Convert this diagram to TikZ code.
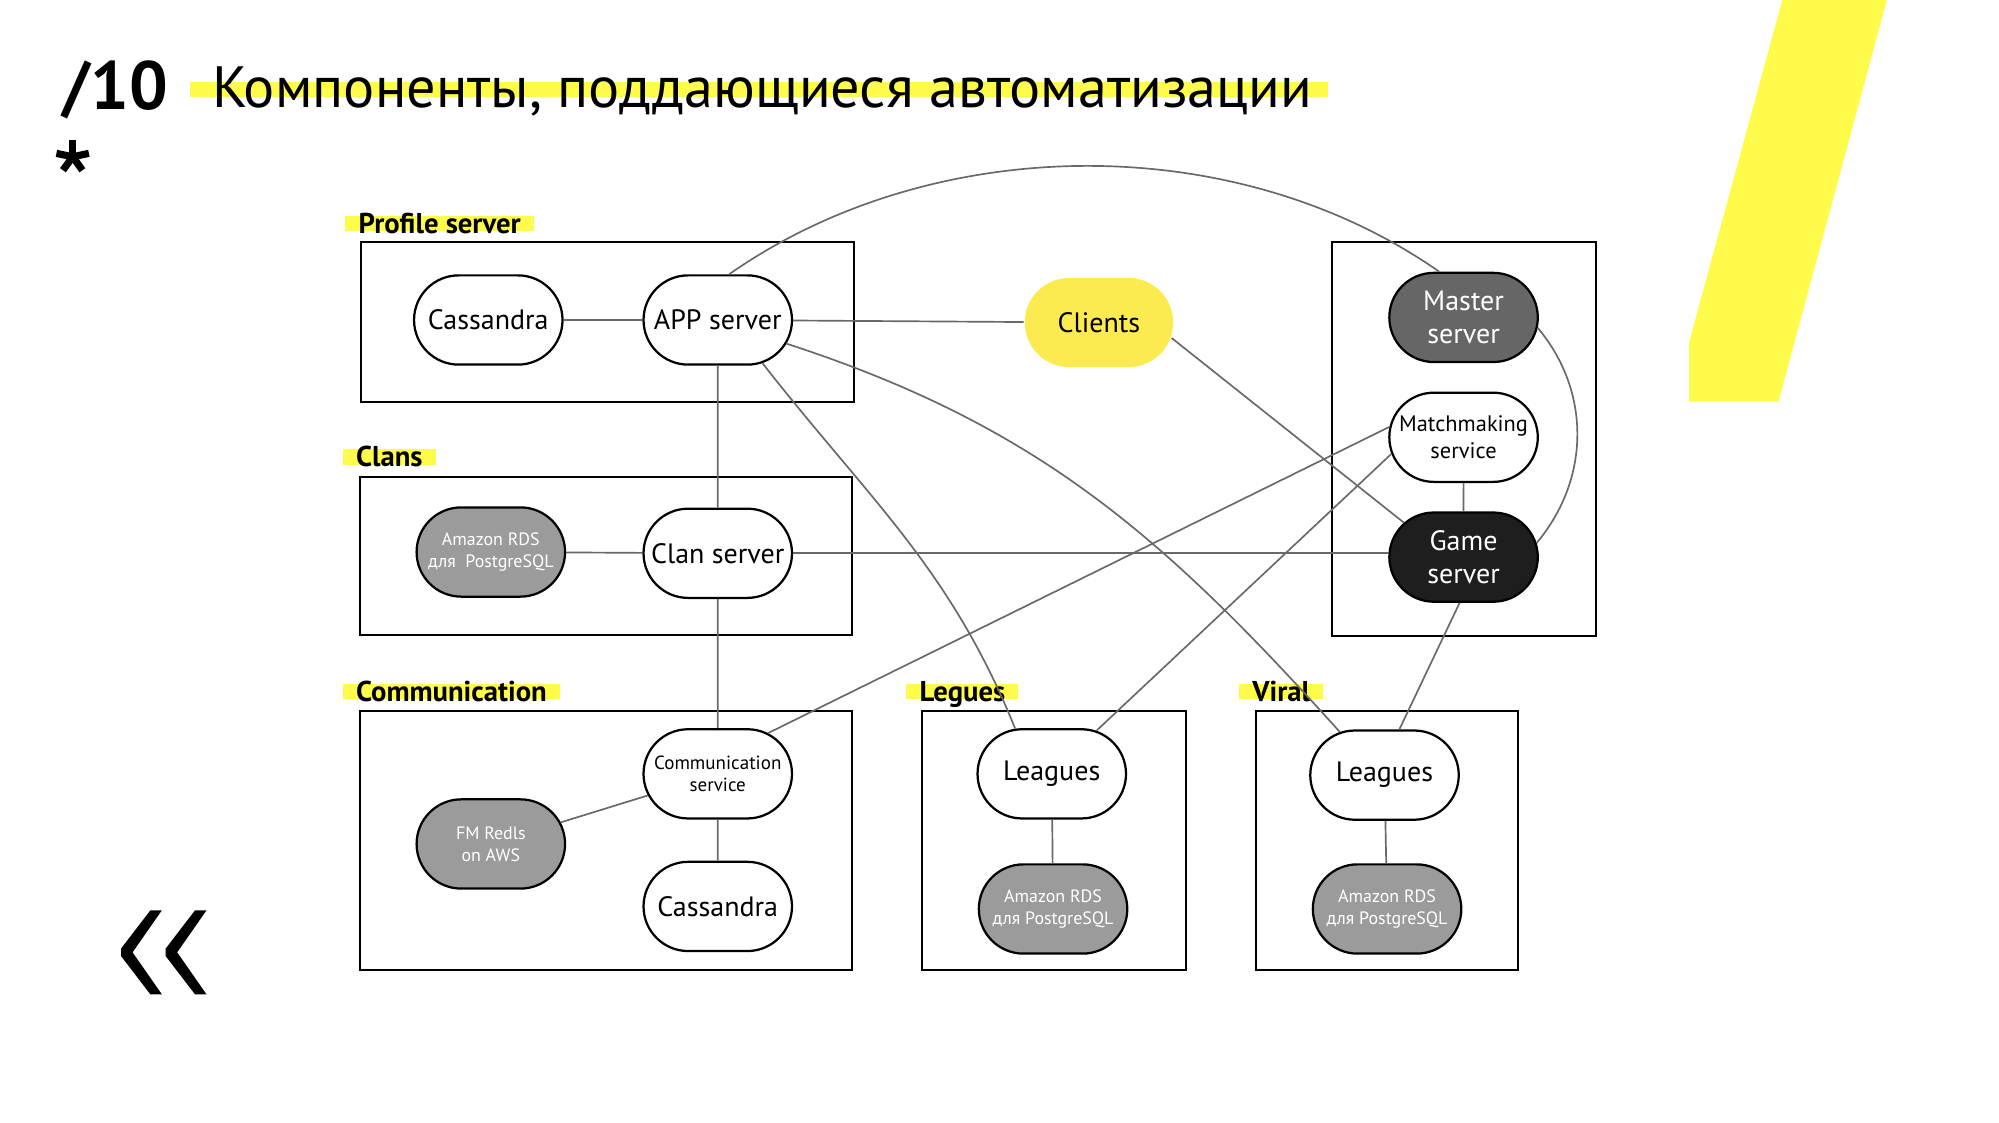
\documentclass[tikz,border=0pt]{standalone}
\usepackage{fontspec}
\setmainfont{PT Sans}
\usetikzlibrary{shapes.misc,backgrounds}
\definecolor{slideyellow}{RGB}{255,251,74}
\definecolor{clientyellow}{RGB}{252,235,80}
\definecolor{dbgray}{RGB}{155,155,155}
\definecolor{mastergray}{RGB}{102,102,102}
\definecolor{gamedark}{RGB}{30,30,30}
\definecolor{wire}{RGB}{105,105,105}

\begin{document}
\begin{tikzpicture}[x=0.02cm,y=0.02cm,
  pill/.style={rounded rectangle,draw=black,line width=1pt,minimum width=2.4cm,minimum height=1.4cm,inner sep=1pt,align=center,font=\fontsize{12.5}{15}\selectfont},
  db/.style={pill,fill=dbgray,text=white,font=\fontsize{8}{9.7}\selectfont},
  grp/.style={draw=black,line width=0.9pt},
  grplab/.style={anchor=base west,inner sep=0pt,font=\fontsize{12.8}{14}\selectfont\bfseries},
  hl/.style={fill=slideyellow},
  link/.style={draw=wire,line width=0.75pt}]
\useasboundingbox (0,0) rectangle (1568,-880.1);
% slide decoration
\fill[slideyellow] (1398,0) -- (1480,0) -- (1395,-315) -- (1325,-315) -- (1325,-268) -- cycle;
\node[anchor=base west,inner sep=0pt,font=\fontsize{30.5}{32}\selectfont\bfseries] (num) at (49,-86) {/10};
\node[anchor=base west,inner sep=0pt,font=\fontsize{26}{28}\selectfont] (title) at (166,-84) {Компоненты, поддающиеся автоматизации};
\begin{pgfonlayer}{background}
\fill[hl] ([shift={(-17,8)}]title.base west) rectangle ([shift={(12,20)}]title.base east);
\end{pgfonlayer}
\foreach \ang in {90,12,168,-54,-126}{\draw[line width=3.2pt] (57,-123) -- ++(\ang:13);};
\foreach \dx in {0,35}{\fill[shift={(\dx,0)}] (118,-714) -- (127,-714) -- (104,-747) -- (127,-780) -- (118,-780) -- (95,-750) -- (95,-744) -- cycle;};
% groups
\foreach \a/\b/\c/\d in {283/190/670/315,282/374/668/498,282/558/668/761,723/558/930/761,985/558/1191/761,1045/190/1252/499}{\draw[grp] (\a,-\b) rectangle (\c,-\d);};
\foreach \n/\x/\y/\t in {lprof/281/183/Profile server,lclan/279/366/Clans,lcomm/279/550/Communication,llg/721/550/Legues,lvir/982/550/Viral}{
  \node[grplab] (\n) at (\x,-\y) {\t};
  \begin{pgfonlayer}{background}
  \fill[hl] ([shift={(-10,1.5)}]\n.base west) rectangle ([shift={(10,13.5)}]\n.base east);
  \end{pgfonlayer}
};
% components
\node[pill] (cas1) at (383,-251) {Cassandra};
\node[pill] (app) at (563,-251) {APP server};
\node[pill,draw=none,fill=clientyellow] (cli) at (862,-253) {Clients};
\node[db] (rds1) at (385,-433) {Amazon RDS\\для\ \ PostgreSQL};
\node[pill] (clan) at (563,-434) {Clan server};
\node[pill,font=\fontsize{8.5}{9.7}\selectfont] (comm) at (563,-607) {Communication\\service};
\node[db] (redis) at (385,-662) {FM Redls\\on AWS};
\node[pill] (cas2) at (563,-711) {Cassandra};
\node[pill] (lg1) at (825,-607) {Leagues};
\node[db] (rds2) at (826,-713) {Amazon RDS\\для PostgreSQL};
\node[pill] (lg2) at (1086,-608) {Leagues};
\node[db] (rds3) at (1088,-713) {Amazon RDS\\для PostgreSQL};
\node[pill,fill=mastergray,text=white] (master) at (1148,-249) {Master\\server};
\node[pill,font=\fontsize{10}{12}\selectfont] (mm) at (1148,-343) {Matchmaking\\service};
\node[pill,fill=gamedark,text=white] (game) at (1148,-437) {Game\\server};
% links
\draw[link] (cas1) -- (app);
\draw[link] (app) -- (cli);
\draw[link] (app.76) .. controls +(160,112) and +(-160,112) .. (master.118);
\draw[link] (app) -- (clan);
\draw[link] (app.-44) to[out=-52,in=112] (lg1.129);
\draw[link] (app.-19) to[out=-18,in=132] (lg2.136);
\draw[link] (cli.-12) -- (game.150);
\draw[link] (rds1) -- (clan);
\draw[link] (clan.east) -- (clan.east -| game.west);
\draw[link] (clan) -- (comm);
\draw[link] (comm.39) -- (mm.172);
\draw[link] (comm) -- (redis);
\draw[link] (comm) -- (cas2);
\draw[link] (lg1.44) -- (mm.193);
\draw[link] (lg1) -- (rds2);
\draw[link] (lg2.72) -- (game.-95);
\draw[link] (lg2) -- (rds3);
\draw[link] (mm) -- (game);
\draw[link] (master.-8) .. controls +(42,-50) and +(42,50) .. (game.11);
\end{tikzpicture}
\end{document}
